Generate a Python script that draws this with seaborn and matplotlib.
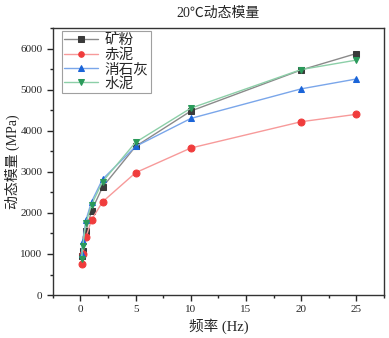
import pandas as pd
import matplotlib
matplotlib.use('Agg')
import matplotlib.pyplot as plt
import seaborn as sns
from matplotlib.ticker import MultipleLocator

# 频率 (Hz)
freq = [0.1, 0.2, 0.5, 1, 2, 5, 10, 20, 25]

# 动态模量 (MPa)
kuangfen = [940, 1070, 1560, 2050, 2630, 3620, 4480, 5480, 5880]
chini = [750, 1000, 1410, 1830, 2270, 2980, 3580, 4220, 4400]
xiaoshihui = [990, 1320, 1830, 2270, 2820, 3620, 4300, 5020, 5260]
shuini = [890, 1200, 1760, 2200, 2760, 3720, 4550, 5490, 5720]

names = ['矿粉', '赤泥', '消石灰', '水泥']
series = [kuangfen, chini, xiaoshihui, shuini]
marker_colors = ['#3a3a3a', '#f03c3c', '#1a64d8', '#2a9a5a']
line_colors = ['#8a8a8a', '#f79a9a', '#7aa6ea', '#8ccfa8']
markers = ['s', 'o', '^', 'v']

sns.set_style('ticks')
plt.rcParams['font.family'] = ['Liberation Serif', 'Noto Sans CJK SC']
plt.rcParams['axes.unicode_minus'] = False

rows = []
for name, vals in zip(names, series):
    for f, v in zip(freq, vals):
        rows.append({'频率': f, '模量': v, '材料': name})
df = pd.DataFrame(rows)

fig = plt.figure(figsize=(3.89, 3.38), dpi=100)
ax = fig.add_axes([0.136, 0.127, 0.851, 0.79])

for name, mc, lc, m in zip(names, marker_colors, line_colors, markers):
    sub = df[df['材料'] == name]
    sns.lineplot(data=sub, x='频率', y='模量', ax=ax, color=lc, linewidth=1.0,
                 marker=m, markersize=5, markerfacecolor=mc, markeredgecolor=mc,
                 label=name)

ax.set_xlim(-2.5, 27.5)
ax.set_ylim(0, 6500)
ax.xaxis.set_major_locator(MultipleLocator(5))
ax.xaxis.set_minor_locator(MultipleLocator(2.5))
ax.yaxis.set_major_locator(MultipleLocator(1000))
ax.yaxis.set_minor_locator(MultipleLocator(500))
ax.tick_params(axis='both', which='major', direction='out', length=4, width=1, labelsize=8)
ax.tick_params(axis='both', which='minor', direction='out', length=2.5, width=1)
for s in ax.spines.values():
    s.set_linewidth(1.0)
    s.set_color('#333333')

ax.set_title('20℃动态模量', fontsize=10, pad=8)
ax.set_xlabel('频率 (Hz)', fontsize=10.5, labelpad=3)
ax.set_ylabel('动态模量 (MPa)', fontsize=10)
ax.yaxis.set_label_coords(-0.098, 0.5)

leg = ax.legend(loc='upper left', bbox_to_anchor=(0.027, 0.988), fontsize=10.5,
                frameon=True, fancybox=False, edgecolor='#888888',
                borderpad=0.15, labelspacing=0.05, handlelength=2.3,
                handletextpad=0.5, borderaxespad=0, markerscale=0.8)
leg.get_frame().set_linewidth(0.8)

fig.savefig('out.png', dpi=100)
